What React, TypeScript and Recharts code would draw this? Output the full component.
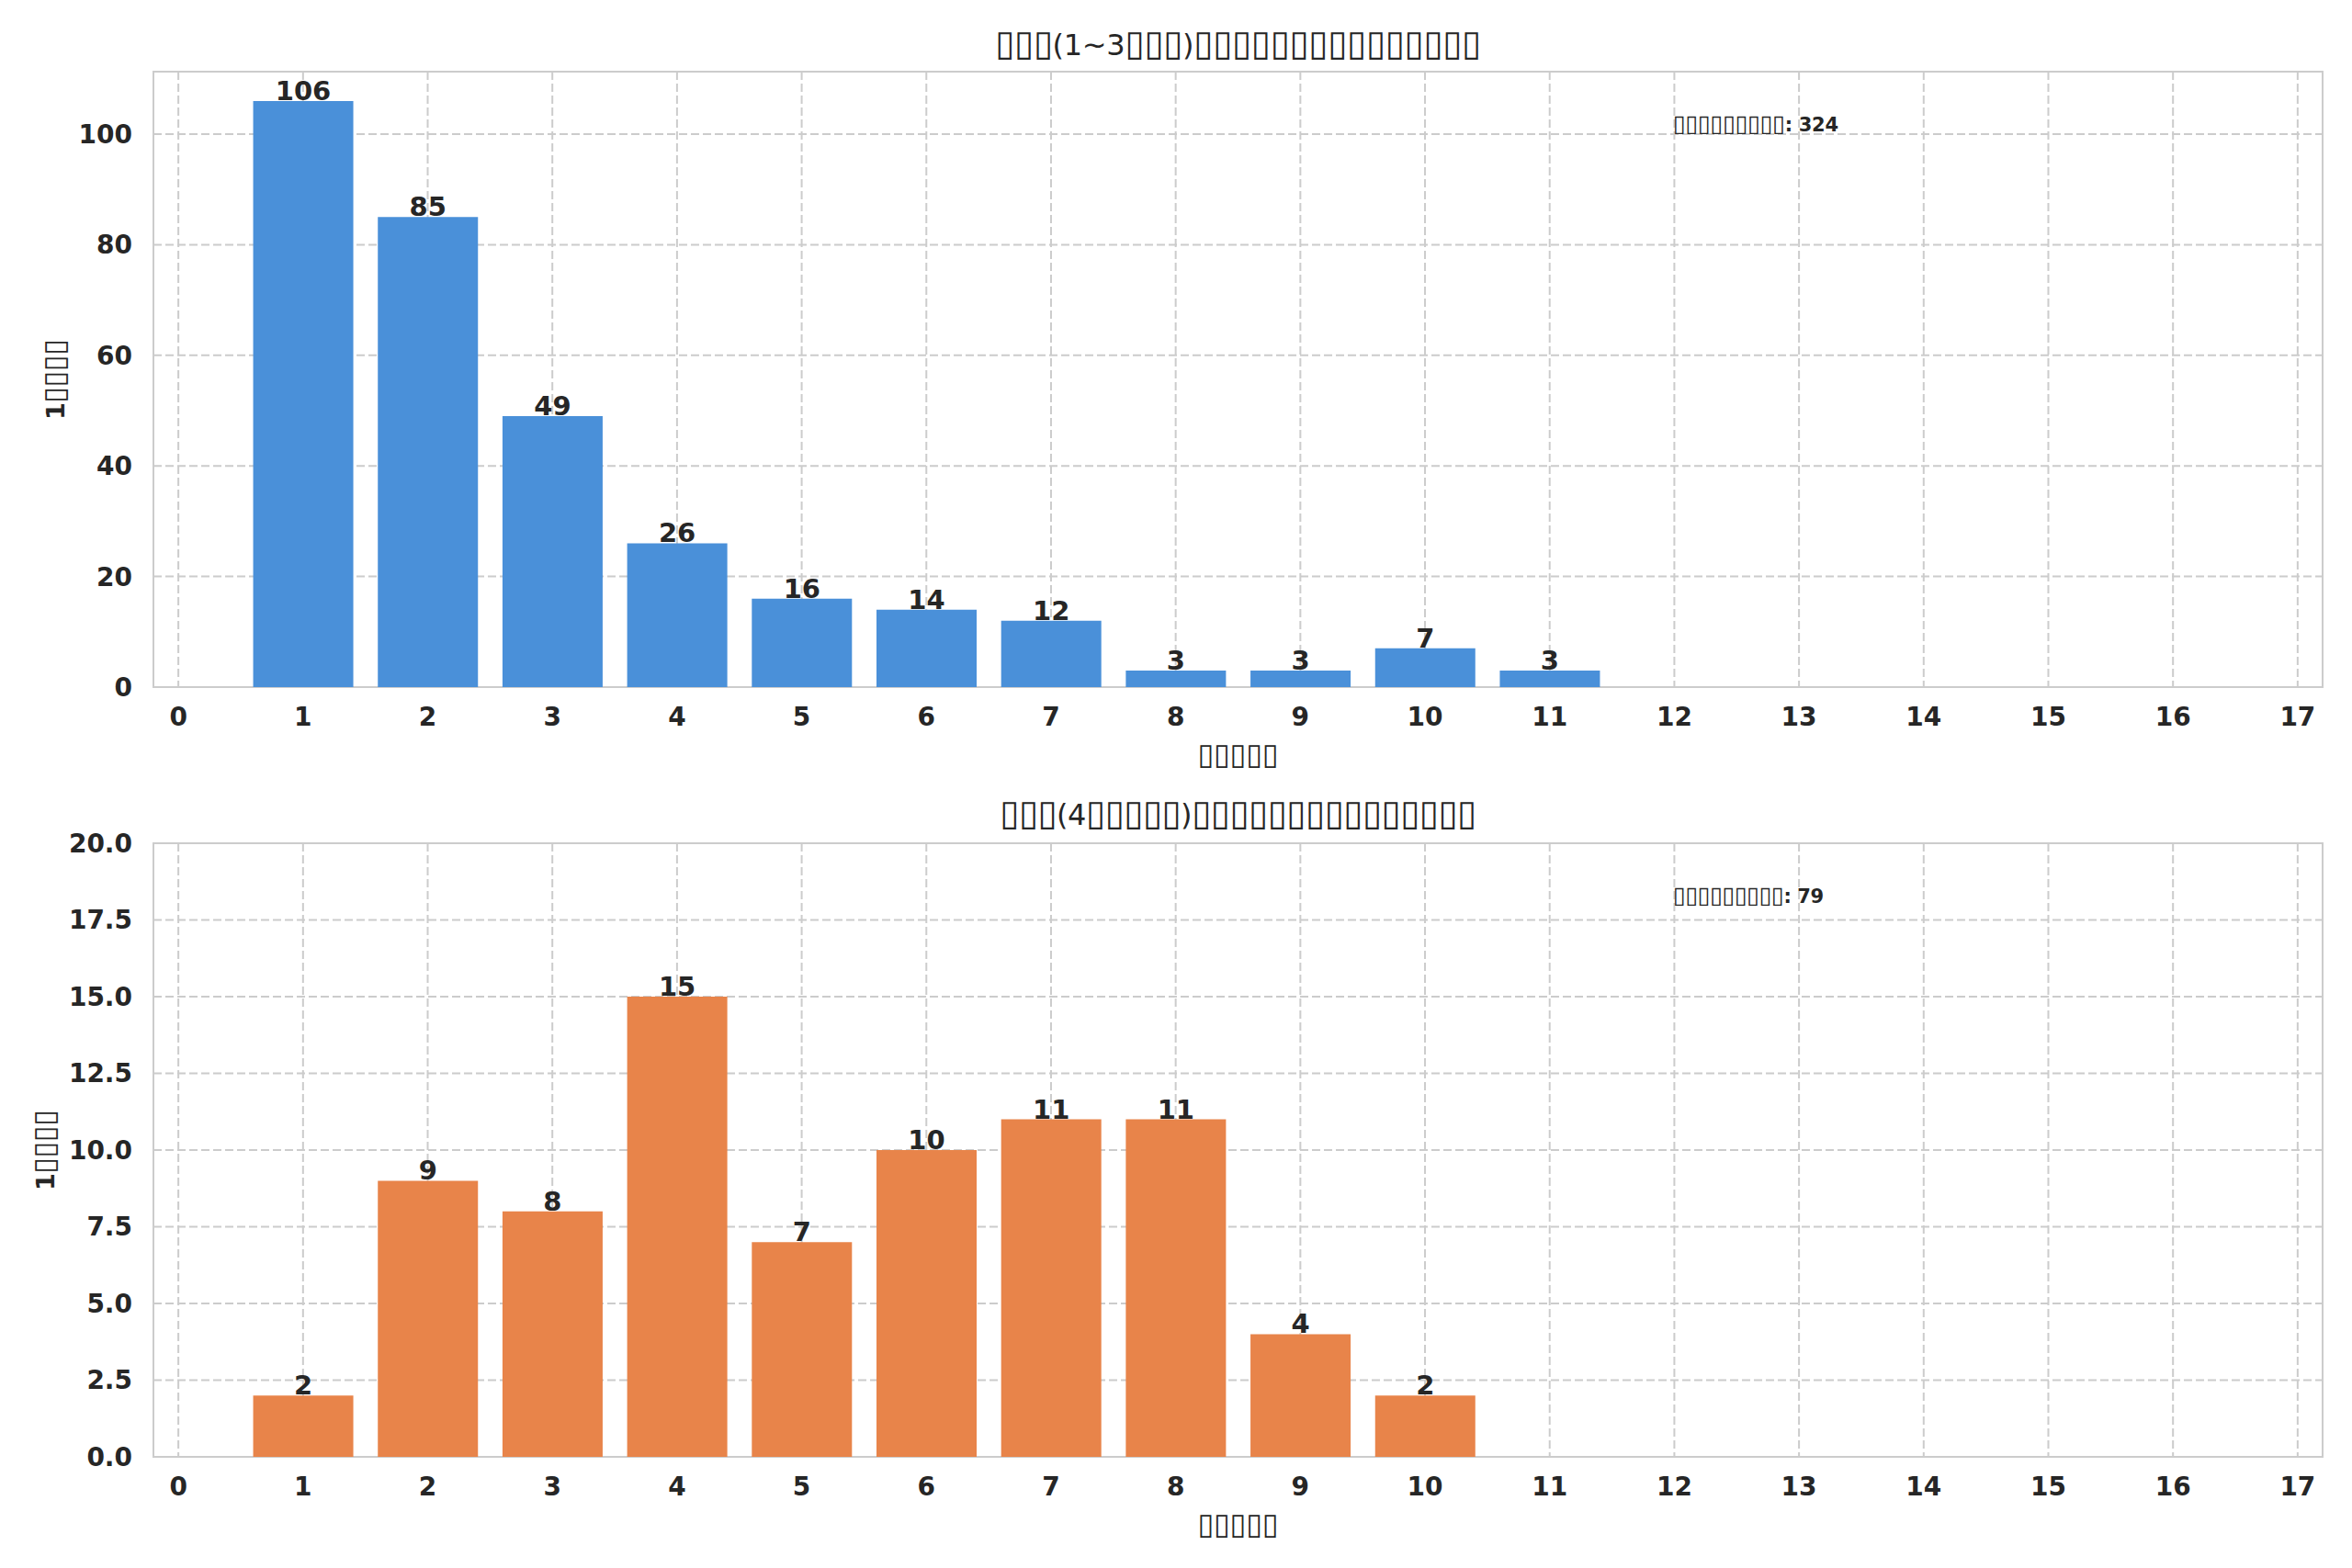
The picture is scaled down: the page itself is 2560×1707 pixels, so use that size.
import React from 'react';
import { BarChart, Bar, XAxis, YAxis, CartesianGrid, LabelList, ReferenceArea } from 'recharts';

// ---- data ----
const xTicks = [0, 1, 2, 3, 4, 5, 6, 7, 8, 9, 10, 11, 12, 13, 14, 15, 16, 17];

const topDays = [1, 2, 3, 4, 5, 6, 7, 8, 9, 10, 11];
const topCounts = [106, 85, 49, 26, 16, 14, 12, 3, 3, 7, 3];
const topYTicks = [0, 20, 40, 60, 80, 100];

const bottomDays = [1, 2, 3, 4, 5, 6, 7, 8, 9, 10];
const bottomCounts = [2, 9, 8, 15, 7, 10, 11, 11, 4, 2];
const bottomYTicks = [0, 2.5, 5, 7.5, 10, 12.5, 15, 17.5, 20];

const topTitle = '▯▯▯(1~3▯▯▯)▯▯▯▯▯▯▯▯▯▯▯▯▯▯▯';
const bottomTitle = '▯▯▯(4▯▯▯▯▯)▯▯▯▯▯▯▯▯▯▯▯▯▯▯▯';
const xLabel = '▯▯▯▯▯';
const yLabel = '1▯▯▯▯';
const totalLabel = '▯▯▯▯▯▯▯▯▯';

const topData = topDays.map((d, i) => ({ day: d, count: topCounts[i] }));
const bottomData = bottomDays.map((d, i) => ({ day: d, count: bottomCounts[i] }));
const topTotal = topCounts.reduce((a, b) => a + b, 0);
const bottomTotal = bottomCounts.reduce((a, b) => a + b, 0);

const FONT = 'DejaVu Sans';
const TEXT = '#262626';
const X_DOMAIN: [number, number] = [-0.2, 17.2];
const TOP_YMAX = 111.3;
const BOTTOM_YMAX = 20;

const tickStyle = { fill: TEXT, fontSize: 28, fontWeight: 'bold', fontFamily: FONT };

// split text into runs so the box glyphs can be drawn a little larger
function runs(s: string, fs: number, weight: string) {
  return s
    .split(/(▯+)/)
    .filter((r) => r.length > 0)
    .map((r, i) =>
      r[0] === '▯' ? (
        <tspan key={i} fontSize={fs * 1.2} fontWeight="normal">
          {r}
        </tspan>
      ) : (
        <tspan key={i} fontSize={fs} fontWeight={weight}>
          {r}
        </tspan>
      )
    );
}

function Panel(props: {
  data: { day: number; count: number }[];
  yTicks: number[];
  yMax: number;
  color: string;
  height: number;
  marginTop: number;
  marginBottom: number;
  fmt?: (v: number) => string;
}) {
  const { data, yTicks, yMax, color, height, marginTop, marginBottom, fmt } = props;
  return (
    <BarChart
      width={2560}
      height={height}
      data={data}
      margin={{ top: marginTop, right: 32, left: 67, bottom: marginBottom }}
      barCategoryGap="10%"
    >
      <CartesianGrid stroke="#cccccc" strokeDasharray="9 4" strokeWidth={2} />
      <XAxis
        dataKey="day"
        type="number"
        domain={X_DOMAIN}
        ticks={xTicks}
        interval={0}
        allowDataOverflow
        height={60}
        axisLine={false}
        tickLine={false}
        tickSize={6}
        tickMargin={16}
        tick={tickStyle}
      />
      <YAxis
        type="number"
        domain={[0, yMax]}
        ticks={yTicks}
        interval={0}
        allowDataOverflow
        width={100}
        axisLine={false}
        tickLine={false}
        tickSize={6}
        tickMargin={17}
        tick={tickStyle}
        tickFormatter={fmt}
      />
      <Bar dataKey="count" fill={color} isAnimationActive={false}>
        <LabelList
          dataKey="count"
          position="top"
          offset={1}
          fill={TEXT}
          fontSize={29}
          fontWeight="bold"
          fontFamily={FONT}
        />
      </Bar>
      <ReferenceArea
        x1={X_DOMAIN[0]}
        x2={X_DOMAIN[1]}
        y1={0}
        y2={yMax}
        fill="none"
        fillOpacity={0}
        stroke="#cccccc"
        strokeWidth={2}
        strokeOpacity={1}
        ifOverflow="visible"
      />
    </BarChart>
  );
}

export default function App() {
  return (
    <div
      style={{
        position: 'absolute',
        left: 0,
        top: 0,
        width: 2560,
        height: 1707,
        background: '#ffffff',
        fontFamily: FONT,
      }}
    >
      <div style={{ position: 'absolute', left: 0, top: 0 }}>
        <Panel
          data={topData}
          yTicks={topYTicks}
          yMax={TOP_YMAX}
          color="#4A90D9"
          height={850}
          marginTop={78}
          marginBottom={42}
        />
      </div>
      <div style={{ position: 'absolute', left: 0, top: 850 }}>
        <Panel
          data={bottomData}
          yTicks={bottomYTicks}
          yMax={BOTTOM_YMAX}
          color="#E8844A"
          height={857}
          marginTop={68}
          marginBottom={61}
          fmt={(v: number) => v.toFixed(1)}
        />
      </div>
      <svg
        width={2560}
        height={1707}
        style={{ position: 'absolute', left: 0, top: 0, pointerEvents: 'none' }}
        fontFamily={FONT}
      >
        <text x={1347.5} y={60} textAnchor="middle" fill={TEXT} textLength={529} lengthAdjust="spacing">
          {runs(topTitle, 32, 'normal')}
        </text>
        <text x={1347.5} y={898} textAnchor="middle" fill={TEXT} textLength={519} lengthAdjust="spacing">
          {runs(bottomTitle, 32, 'normal')}
        </text>
        <text x={1347.5} y={832} textAnchor="middle" fill={TEXT} textLength={88} lengthAdjust="spacing">
          {runs(xLabel, 27, 'bold')}
        </text>
        <text x={1347.5} y={1670} textAnchor="middle" fill={TEXT} textLength={88} lengthAdjust="spacing">
          {runs(xLabel, 27, 'bold')}
        </text>
        <text
          x={59}
          y={424}
          textAnchor="middle"
          fill={TEXT}
          textLength={88}
          lengthAdjust="spacing"
          transform="rotate(-90 59 413)"
        >
          {runs(yLabel, 27, 'bold')}
        </text>
        <text
          x={48}
          y={1263}
          textAnchor="middle"
          fill={TEXT}
          textLength={88}
          lengthAdjust="spacing"
          transform="rotate(-90 48 1252)"
        >
          {runs(yLabel, 27, 'bold')}
        </text>
        <text x={1821} y={143} fill={TEXT} textLength={180} lengthAdjust="spacing">
          {runs(totalLabel, 21, 'bold')}
          <tspan fontSize={21} fontWeight="bold">{`: ${topTotal}`}</tspan>
        </text>
        <text x={1821} y={983} fill={TEXT} textLength={164} lengthAdjust="spacing">
          {runs(totalLabel, 21, 'bold')}
          <tspan fontSize={21} fontWeight="bold">{`: ${bottomTotal}`}</tspan>
        </text>
      </svg>
    </div>
  );
}
